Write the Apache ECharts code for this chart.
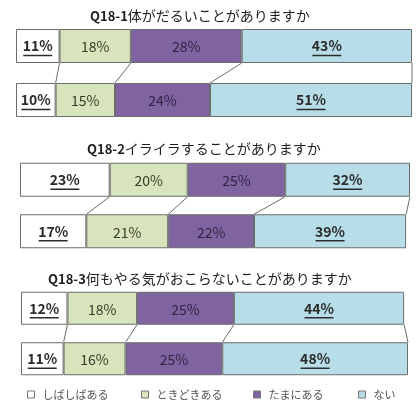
<!DOCTYPE html>
<html>
<head>
<meta charset="utf-8">
<script src="https://cdn.jsdelivr.net/npm/echarts@6/dist/echarts.min.js"></script>
<style>
  html, body { margin: 0; padding: 0; background: #fff; }
  #chart { width: 417px; height: 401px; }
</style>
</head>
<body>
<div id="chart"></div>
<script>
const categories = ['しばしばある', 'ときどきある', 'たまにある', 'ない'];
const titleCodes = ['Q18-1', 'Q18-2', 'Q18-3'];
const titleTexts = [
  '体がだるいことがありますか',
  'イライラすることがありますか',
  '何もやる気がおこらないことがありますか',
];
const q1Top = [11, 18, 28, 43];
const q1Bottom = [10, 15, 24, 51];
const q2Top = [23, 20, 25, 32];
const q2Bottom = [17, 21, 22, 39];
const q3Top = [12, 18, 25, 44];
const q3Bottom = [11, 16, 25, 48];

const colors = ['#ffffff', '#d8e4bc', '#8064a2', '#b7dde8'];
const labelColors = ['#2b2b2b', '#3a3a2a', '#2e2540', '#2b2b2b'];
const underlined = [true, false, false, true];
const font = '"Noto Sans CJK JP", "Noto Sans", sans-serif';

const panels = [
  { rows: [q1Top, q1Bottom], left: 16, width: 396, top: 19, height: 108, bar: 34, titleTop: 9, titleLeft: 90 },
  { rows: [q2Top, q2Bottom], left: 20, width: 390, top: 154, height: 103, bar: 34, titleTop: 142, titleLeft: 87 },
  { rows: [q3Top, q3Bottom], left: 21, width: 387, top: 283, height: 101, bar: 33, titleTop: 272, titleLeft: 48 },
];

function cumulative(arr) {
  const out = [];
  let s = 0;
  arr.forEach((v) => { s += v; out.push(s); });
  return out;
}

const chart = echarts.init(document.getElementById('chart'), null, { renderer: 'canvas' });

const grid = [], xAxis = [], yAxis = [], series = [], title = [];
panels.forEach((p, gi) => {
  title.push({
    text: '{q|' + titleCodes[gi] + '}{t|' + titleTexts[gi] + '}',
    left: p.titleLeft,
    top: p.titleTop,
    padding: 0,
    textStyle: {
      fontWeight: 'normal',
      rich: {
        q: { fontFamily: font, fontSize: 13, fontWeight: 'bold', color: '#1e1e1e' },
        t: { fontFamily: font, fontSize: 14, fontWeight: 'normal', color: '#1e1e1e' },
      },
    },
  });
  grid.push({ left: p.left, width: p.width, top: p.top, height: p.height });
  xAxis.push({ gridIndex: gi, type: 'value', min: 0, max: 100, show: false });
  yAxis.push({ gridIndex: gi, type: 'category', data: ['a', 'b'], inverse: true, show: false });

  categories.forEach((name, si) => {
    series.push({
      name,
      type: 'bar',
      stack: 'g' + gi,
      xAxisIndex: gi,
      yAxisIndex: gi,
      barWidth: p.bar,
      data: [p.rows[0][si], p.rows[1][si]],
      itemStyle: { color: colors[si], borderColor: '#6b6b6b', borderWidth: 1 },
      label: {
        show: true,
        position: 'inside',
        formatter: (d) => underlined[si] ? '{b|' + d.value + '%}\n{u|}' : '{n|' + d.value + '%}',
        rich: {
          b: { fontFamily: font, fontSize: 14, fontWeight: 'bold', color: labelColors[si], lineHeight: 17 },
          u: { width: 29, height: 1.5, lineHeight: 2, backgroundColor: '#2b2b2b' },
          n: { fontFamily: font, fontSize: 14, color: labelColors[si] },
        },
        offset: [0, 1],
      },
      emphasis: { disabled: true },
    });
  });

  // connector lines between segment boundaries
  const topCum = cumulative(p.rows[0]);
  const botCum = cumulative(p.rows[1]);
  series.push({
    type: 'custom',
    xAxisIndex: gi,
    yAxisIndex: gi,
    silent: true,
    data: topCum.map((v, i) => [v, botCum[i]]),
    renderItem: (params, api) => {
      const a = api.coord([api.value(0), 0]);
      const b = api.coord([api.value(1), 1]);
      return {
        type: 'line',
        shape: { x1: a[0], y1: a[1] + p.bar / 2, x2: b[0], y2: b[1] - p.bar / 2 },
        style: { stroke: '#6b6b6b', lineWidth: 1 },
      };
    },
  });
});

const legendLeft = [22, 136, 248, 353];
const legend = categories.map((name, i) => ({
  data: [name],
  left: legendLeft[i],
  top: 384,
  icon: 'rect',
  itemWidth: 7,
  itemHeight: 7,
  itemGap: 0,
  itemStyle: { borderColor: '#777', borderWidth: 1 },
  textStyle: { fontFamily: font, fontSize: 11, color: '#555', padding: [0, 0, 0, 3] },
  selectedMode: false,
}));

chart.setOption({
  backgroundColor: '#ffffff',
  animation: false,
  title,
  grid,
  xAxis,
  yAxis,
  legend,
  series,
});
</script>
</body>
</html>
